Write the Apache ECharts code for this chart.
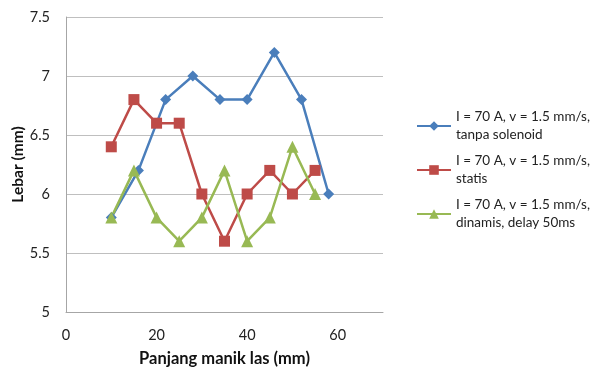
<!DOCTYPE html>
<html>
<head>
<meta charset="utf-8">
<script src="https://cdn.jsdelivr.net/npm/echarts@6/dist/echarts.min.js"></script>
<style>html,body{margin:0;padding:0;background:#fff}#c{width:595px;height:372px}</style>
</head>
<body>
<div id="c"></div>
<script>
var seriesNames = [
  'I = 70 A, v = 1.5 mm/s,\ntanpa solenoid',
  'I = 70 A, v = 1.5 mm/s,\nstatis',
  'I = 70 A, v = 1.5 mm/s,\ndinamis, delay 50ms'
];
var blueX = [10, 16, 22, 28, 34, 40, 46, 52, 58];
var blueY = [5.8, 6.2, 6.8, 7.0, 6.8, 6.8, 7.2, 6.8, 6.0];
var redX = [10, 15, 20, 25, 30, 35, 40, 45, 50, 55];
var redY = [6.4, 6.8, 6.6, 6.6, 6.0, 5.6, 6.0, 6.2, 6.0, 6.2];
var greenX = [10, 15, 20, 25, 30, 35, 40, 45, 50, 55];
var greenY = [5.8, 6.2, 5.8, 5.6, 5.8, 6.2, 5.6, 5.8, 6.4, 6.0];
var xTitle = 'Panjang manik las (mm)';
var yTitle = 'Lebar (mm)';

function pairs(xs, ys) { return xs.map(function (x, i) { return [x, ys[i]]; }); }
var FONT = 'Lato';
var chart = echarts.init(document.getElementById('c'), null, {renderer: 'canvas'});
chart.setOption({
  animation: false,
  textStyle: {fontFamily: FONT},
  grid: {left: 66, top: 17, right: 212, bottom: 60, containLabel: false, outerBoundsMode: 'none'},
  xAxis: {
    type: 'value', min: 0, max: 70, interval: 20,
    name: xTitle, nameLocation: 'middle', nameGap: 38, nameMoveOverlap: false,
    nameTextStyle: {fontFamily: FONT, fontSize: 16.5, fontWeight: 'bold', color: '#111'},
    axisLine: {show: true, lineStyle: {color: '#a6a6a6'}},
    axisTick: {show: false},
    splitLine: {show: false},
    axisLabel: {fontFamily: FONT, fontSize: 14.5, color: '#222', margin: 16, showMaxLabel: false,
      formatter: function (v) { return v % 20 === 0 ? String(v) : ''; }}
  },
  yAxis: {
    type: 'value', min: 5, max: 7.5, interval: 0.5,
    name: yTitle, nameLocation: 'middle', nameGap: 40, nameRotate: 90, nameMoveOverlap: false,
    nameTextStyle: {fontFamily: FONT, fontSize: 15.5, fontWeight: 'bold', color: '#111'},
    axisLine: {show: true, lineStyle: {color: '#a6a6a6'}},
    axisTick: {show: false},
    splitLine: {show: true, lineStyle: {color: '#bfbfbf'}},
    axisLabel: {fontFamily: FONT, fontSize: 14.5, color: '#222', margin: 16,
      formatter: function (v) { return String(Math.round(v * 10) / 10); }}
  },
  legend: {
    orient: 'vertical', left: 416, top: 99, padding: 0,
    itemWidth: 34, itemHeight: 12, itemGap: -10,
    textStyle: {fontFamily: FONT, fontSize: 13.5, color: '#222', lineHeight: 18, padding: [18, 0, 0, 0]},
    data: seriesNames
  },
  series: [
    {name: seriesNames[0], type: 'line', data: pairs(blueX, blueY),
      symbol: 'diamond', symbolSize: 11, color: '#4a7ebb',
      lineStyle: {width: 2.5, color: '#4a7ebb'}, itemStyle: {color: '#4a7ebb'}},
    {name: seriesNames[1], type: 'line', data: pairs(redX, redY),
      symbol: 'rect', symbolSize: 11, color: '#be4b48',
      lineStyle: {width: 2.5, color: '#be4b48'}, itemStyle: {color: '#be4b48'}},
    {name: seriesNames[2], type: 'line', data: pairs(greenX, greenY),
      symbol: 'triangle', symbolSize: 12, color: '#98b954',
      lineStyle: {width: 2.5, color: '#98b954'}, itemStyle: {color: '#98b954'}}
  ]
});
</script>
</body>
</html>
